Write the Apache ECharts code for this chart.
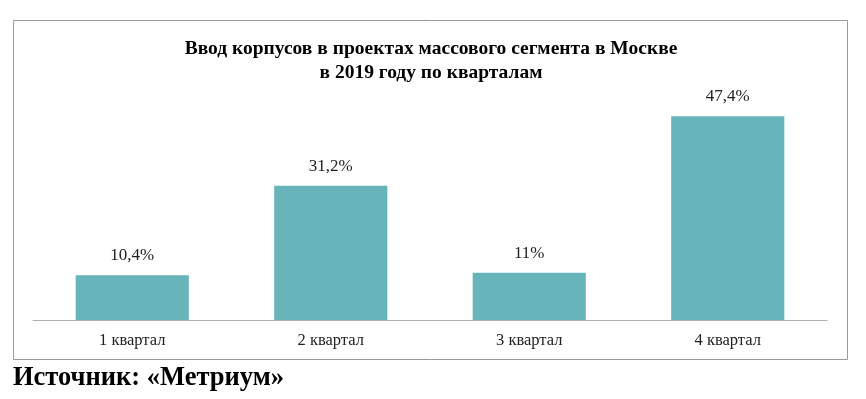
<!DOCTYPE html>
<html>
<head>
<meta charset="utf-8">
<script src="https://cdn.jsdelivr.net/npm/echarts@6/dist/echarts.min.js"></script>
<style>
  html, body { margin: 0; padding: 0; background: #fff; }
  #main { width: 866px; height: 399px; }
</style>
</head>
<body>
<div id="main"></div>
<script>
var categories = ['1 квартал', '2 квартал', '3 квартал', '4 квартал'];
var values = [10.4, 31.2, 11, 47.4];
var valueLabels = ['10,4%', '31,2%', '11%', '47,4%'];

var myChart = echarts.init(document.getElementById('main'));
var option = {
    backgroundColor: '#fff',
    title: {
        text: 'Ввод корпусов в проектах массового сегмента в Москве\nв 2019 году по кварталам',
        left: 426,
        textAlign: 'center',
        top: 32,
        textStyle: {
            fontFamily: 'Liberation Serif',
            fontWeight: 'bold',
            fontSize: 19.5,
            lineHeight: 24,
            color: '#000'
        }
    },
    graphic: [
        {
            type: 'rect',
            shape: { x: 13.5, y: 20.5, width: 834, height: 339 },
            style: { fill: 'none', stroke: '#9a9a9a', lineWidth: 1 },
            z: -1
        },
        {
            type: 'text',
            left: 13,
            top: 365,
            style: {
                text: 'Источник: «Метриум»',
                font: 'bold 26.5px "Liberation Serif"',
                fill: '#000'
            }
        }
    ],
    grid: {
        left: 33,
        right: 39,
        top: 62,
        bottom: 79,
        containLabel: false
    },
    xAxis: {
        type: 'category',
        data: categories,
        axisTick: { show: false },
        axisLine: { lineStyle: { color: '#b0b0b0', width: 1 } },
        axisLabel: {
            margin: 12,
            fontFamily: 'Liberation Serif',
            fontSize: 16.5,
            color: '#222'
        }
    },
    yAxis: {
        type: 'value',
        min: 0,
        max: 60,
        show: false,
        splitLine: { show: false }
    },
    series: [{
        type: 'bar',
        data: values,
        barWidth: '57%',
        itemStyle: { color: '#67b5bb' },
        label: {
            show: true,
            position: 'top',
            distance: 11,
            fontFamily: 'Liberation Serif',
            fontSize: 17,
            color: '#222',
            formatter: function (p) { return valueLabels[p.dataIndex]; }
        }
    }]
};
myChart.setOption(option);
</script>
</body>
</html>
